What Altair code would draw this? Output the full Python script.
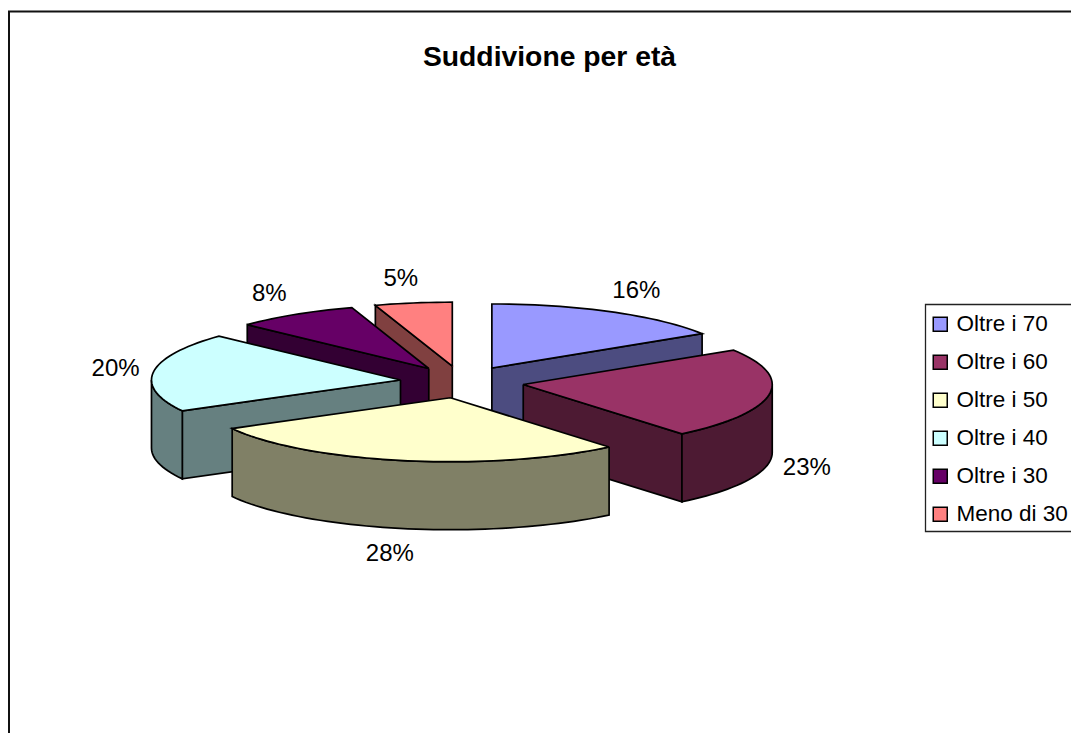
import math
import altair as alt
import pandas as pd

labels = ["Oltre i 70", "Oltre i 60", "Oltre i 50", "Oltre i 40", "Oltre i 30", "Meno di 30"]
values = [16, 23, 28, 20, 8, 5]
top_colors = ["#9999FF", "#993366", "#FFFFCC", "#CCFFFF", "#660066", "#FF8080"]
wall_colors = ["#4C4C80", "#4D1A33", "#808066", "#668080", "#330033", "#804040"]
paint_order = [5, 4, 0, 3, 1, 2]
title_text = "Suddivione per età"

CX, CY, RX, RY, EX, EY, DEPTH = 462, 382, 249, 64, 62, 16, 68


def rim(cx, cy, deg):
    t = math.radians(deg)
    return cx + RX * math.sin(t), cy - RY * math.cos(t)


def arc(cx, cy, a, b):
    n = max(2, int(abs(b - a) / 2) + 1)
    return [rim(cx, cy, a + (b - a) * i / n) for i in range(n + 1)]


rows, label_rows, legend_rows = [], [], []
shape_id = [0]


def add_poly(points, fill):
    sid = shape_id[0]
    shape_id[0] += 1
    closed = points + [points[0]]
    for k, (x, y) in enumerate(closed):
        rows.append({"x": x, "y": y, "shape": f"s{sid:03d}", "k": k, "fill": fill})


total = sum(values)
starts = [sum(values[:i]) * 360 / total for i in range(len(values))]
ends = [sum(values[:i + 1]) * 360 / total for i in range(len(values))]

for i in paint_order:
    a, b = starts[i], ends[i]
    mid = (a + b) / 2
    tm = math.radians(mid)
    cx = CX + EX * math.sin(tm)
    cy = CY - EY * math.cos(tm)
    if math.sin(math.radians(a)) < -1e-6:
        p = rim(cx, cy, a)
        add_poly([(cx, cy), p, (p[0], p[1] + DEPTH), (cx, cy + DEPTH)], wall_colors[i])
    if math.sin(math.radians(b)) > 1e-6:
        p = rim(cx, cy, b)
        add_poly([(cx, cy), p, (p[0], p[1] + DEPTH), (cx, cy + DEPTH)], wall_colors[i])
    lo, hi = max(a, 90), min(b, 270)
    if hi > lo:
        up = arc(cx, cy, lo, hi)
        down = [(x, y + DEPTH) for x, y in reversed(up)]
        add_poly(up + down, wall_colors[i])
    add_poly([(cx, cy)] + arc(cx, cy, a, b), top_colors[i])
    ox, oy = rim(cx, cy, mid)
    s = math.sin(tm)
    c = math.cos(tm)
    dx = 38 * math.copysign(abs(s) ** 0.6, s)
    dy = -24 * c + (DEPTH + 2 if (90 <= mid <= 270) else 0)
    label_rows.append({"x": ox + dx, "y": oy + dy, "t": f"{values[i]}%"})
    legend_rows.append({"x": cx, "y": cy, "cat": labels[i]})

X = alt.X("x:Q", axis=None, scale=alt.Scale(domain=[8, 1071], zero=False, nice=False))
Y = alt.Y("y:Q", axis=None, scale=alt.Scale(domain=[733, 8], zero=False, nice=False))

legend_layer = alt.Chart(pd.DataFrame(legend_rows)).mark_square(size=4, opacity=1).encode(
    x=X,
    y=Y,
    fill=alt.Fill(
        "cat:N",
        scale=alt.Scale(domain=labels, range=top_colors),
        sort=labels,
        legend=alt.Legend(
            title=None,
            orient="none",
            legendX=921,
            legendY=305,
            symbolType="square",
            symbolSize=196,
            symbolStrokeColor="black",
            symbolStrokeWidth=1.5,
            symbolOpacity=1,
            labelFont="Liberation Sans",
            labelFontSize=22.5,
            labelColor="black",
            labelOffset=5,
            rowPadding=15,
            padding=0,
            labelLimit=300,
        ),
    ),
)

faces = alt.Chart(pd.DataFrame(rows)).mark_line(
    filled=True, stroke="black", strokeWidth=1.7, strokeJoin="miter", interpolate="linear"
).encode(
    x=X,
    y=Y,
    detail="shape:N",
    order="k:Q",
    fill=alt.Fill("fill:N", scale=None),
)

pct = alt.Chart(pd.DataFrame(label_rows)).mark_text(
    font="Liberation Sans", fontSize=24, color="black", align="center", baseline="middle"
).encode(x=X, y=Y, text="t:N")

frame_top = alt.Chart(pd.DataFrame({"a": [0]})).mark_rule(color="#111111", strokeWidth=2).encode(
    x=alt.value(0), x2=alt.value(1063), y=alt.value(3.5)
)
frame_left = alt.Chart(pd.DataFrame({"a": [0]})).mark_rule(color="#111111", strokeWidth=2).encode(
    x=alt.value(1), y=alt.value(3), y2=alt.value(725)
)
legend_box = alt.Chart(pd.DataFrame({"a": [0]})).mark_rect(
    fillOpacity=0, stroke="#222222", strokeWidth=1.3
).encode(x=alt.value(917.5), x2=alt.value(1075), y=alt.value(296.5), y2=alt.value(523.5))

chart = (
    alt.layer(frame_top, frame_left, legend_box, legend_layer, faces, pct)
    .resolve_scale(fill="independent")
    .properties(
        width=1063,
        height=725,
        padding=0,
        autosize=alt.AutoSizeParams(type="none"),
        background="white",
        title=alt.TitleParams(
            title_text,
            font="Liberation Sans",
            fontSize=28.3,
            fontWeight="bold",
            color="black",
            anchor="middle",
            frame="group",
            dx=10,
            offset=-64,
        ),
    )
    .configure_view(stroke=None)
)

chart.save("out.html", embed_options={"renderer": "svg", "actions": False})
